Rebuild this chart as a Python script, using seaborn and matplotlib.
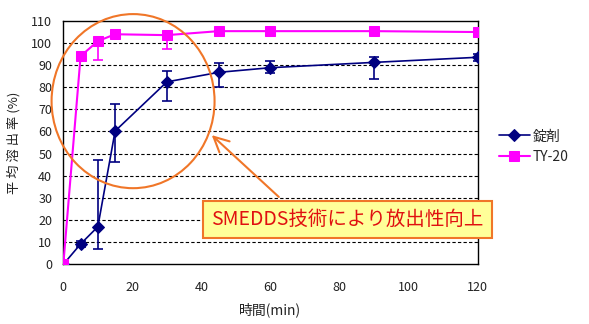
import numpy as np
import pandas as pd
import matplotlib
matplotlib.use("Agg")
import matplotlib.pyplot as plt
import seaborn as sns
from matplotlib.patches import Ellipse

sns.set_theme(style="white")
plt.rcParams['font.family'] = ['Noto Sans CJK JP', 'DejaVu Sans']

times = [0, 5, 10, 15, 30, 45, 60, 90, 120]
tablet = [0, 9.2, 17.0, 60.2, 82.4, 86.7, 88.8, 91.2, 93.5]
tablet_err_lo = [0, 1.2, 10.2, 14.0, 8.5, 6.5, 2.3, 7.5, 1.5]
tablet_err_hi = [0, 1.2, 30.1, 12.2, 5.0, 4.0, 3.0, 2.5, 1.5]
ty20 = [0, 94.0, 100.8, 103.9, 103.5, 105.3, 105.3, 105.3, 104.9]
ty20_err_lo = [0, 0, 8.6, 0, 6.3, 0, 0, 0, 0]
labels = ["錠剤", "TY-20"]
colors = ["#000080", "#FF00FF"]
annot_text = "SMEDDS技術により放出性向上"

df = pd.DataFrame({
    "time": times * 2,
    "value": tablet + ty20,
    "series": [labels[0]] * len(times) + [labels[1]] * len(times),
})

fig = plt.figure(figsize=(5.89, 3.24), dpi=100)
ax = fig.add_axes([0.1075, 0.184, 0.7035, 0.752])

# error bars
ax.errorbar(times, tablet, yerr=[tablet_err_lo, tablet_err_hi], fmt="none",
            ecolor=colors[0], elinewidth=1.2, capsize=3.5, capthick=1.2, zorder=3)
ax.errorbar(times, ty20, yerr=[ty20_err_lo, [0] * len(times)], fmt="none",
            ecolor=colors[1], elinewidth=1.2, capsize=3.5, capthick=1.2, zorder=3)

sns.lineplot(data=df[df.series == labels[0]], x="time", y="value", ax=ax,
             color=colors[0], marker="D", markersize=6.5, markeredgecolor=colors[0],
             linewidth=1.2, label=labels[0], zorder=4)
sns.lineplot(data=df[df.series == labels[1]], x="time", y="value", ax=ax,
             color=colors[1], marker="s", markersize=7.5, markeredgecolor=colors[1],
             linewidth=1.5, label=labels[1], zorder=4)

ax.set_xlim(0, 120)
ax.set_ylim(0, 110)
ax.set_xticks(range(0, 121, 20))
ax.set_yticks(range(0, 111, 10))
ax.tick_params(axis="x", direction="in", length=4, width=0.8, color="black",
               labelsize=9, pad=12)
ax.tick_params(axis="y", length=0, labelsize=9, pad=8)
for t in ax.get_xticklabels() + ax.get_yticklabels():
    t.set_color("#222222")

for y in range(10, 110, 10):
    ax.axhline(y, color="black", linestyle=(0, (3, 2)), linewidth=0.8, zorder=1)

for s in ax.spines.values():
    s.set_color("black")
    s.set_linewidth(1.0)

ax.set_xlabel("時間(min)", fontsize=10, labelpad=6, color="#222222")
ax.set_ylabel("平 均 溶 出 率 (%)", fontsize=9.5, labelpad=8, color="#222222")

# annotation ellipse
ell = Ellipse((20.2, 73.7), 47.2, 78.6, fill=False, edgecolor="#F07628",
              linewidth=1.5, zorder=5, clip_on=False)
ax.add_patch(ell)

ax.annotate("", xy=(42.4, 59.2), xytext=(63.0, 29.6),
            arrowprops=dict(arrowstyle="->,head_length=0.9,head_width=0.45",
                            color="#F07628", linewidth=1.5),
            zorder=6, annotation_clip=False)

ax.text(42.8, 20.4, annot_text, fontsize=14.0, color="#E01010",
        ha="left", va="center", zorder=7,
        bbox=dict(boxstyle="square,pad=0.42", facecolor="#FFFF99",
                  edgecolor="#F07628", linewidth=1.5), clip_on=False)

leg = ax.legend(loc="center left", bbox_to_anchor=(0.838, 0.548),
                bbox_transform=fig.transFigure, frameon=False, fontsize=10,
                handlelength=2.2, handletextpad=0.2, labelspacing=0.45,
                borderaxespad=0)

fig.savefig("out.png", dpi=100)
